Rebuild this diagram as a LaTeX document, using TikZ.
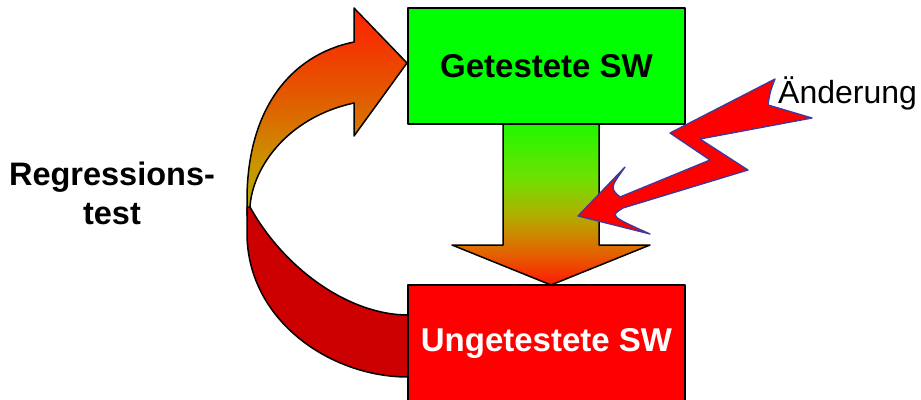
\documentclass[tikz,border=0pt]{standalone}
\usepackage{fontspec}
\setmainfont{Liberation Sans}
\definecolor{boxgreen}{HTML}{00FF00}
\definecolor{boxred}{HTML}{FF0000}
\definecolor{loopred}{HTML}{CC0000}
\definecolor{boltblue}{HTML}{3A3AA0}
\definecolor{fRed}{HTML}{FF1A00}
\definecolor{fOrange}{HTML}{E06A00}
\definecolor{fOlive}{HTML}{B0B000}
\definecolor{fLime}{HTML}{70E000}
\definecolor{fGreen}{HTML}{20F800}
\definecolor{lOlive}{HTML}{B4AA00}
\definecolor{lAmber}{HTML}{C89600}
\definecolor{lOrange}{HTML}{E06000}
\definecolor{lRed}{HTML}{F43400}
\definecolor{lTop}{HTML}{FF2400}
% downward flow: red at the tip, green at the top of the shaft
\pgfdeclareverticalshading{flowshade}{100bp}{color(0bp)=(fRed); color(25bp)=(fRed); color(36bp)=(fOrange); color(47bp)=(fOlive); color(58bp)=(fLime); color(75bp)=(fGreen); color(100bp)=(fGreen)}
% rising half of the loop arrow
\pgfdeclareverticalshading{loopshade}{100bp}{color(0bp)=(lOlive); color(25bp)=(lOlive); color(37bp)=(lAmber); color(52bp)=(lOrange); color(67bp)=(lRed); color(75bp)=(lTop); color(100bp)=(lTop)}
\begin{document}
\begin{tikzpicture}[x=1pt, y=-1pt, line join=round,
  outline/.style={draw=black, line width=1.5pt},
  box/.style={outline, minimum width=277pt, minimum height=116pt, inner sep=0pt,
    font=\fontsize{33}{33}\selectfont\bfseries},
  bolt/.style={fill=red, draw=boltblue, line width=1.3pt},
  sidelabel/.style={font=\fontsize{32.5}{39}\selectfont\bfseries, align=center, inner sep=0pt},
  changelabel/.style={font=\fontsize{32}{36}\selectfont, inner sep=0pt, anchor=base west}]
\useasboundingbox (0,0) rectangle (921,399);

% loop arrow: rising, shaded half
\path[outline, shade, shading=loopshade]
  (247,215) -- (247,200) .. controls (247,110) and (290,55) .. (354,42)
  -- (354,8) -- (407,63) -- (354,136) -- (354,103)
  .. controls (285,118) and (252,170) .. (250,207) -- cycle;
% loop arrow: returning, dark half
\path[outline, fill=loopred]
  (247,207) -- (247,233) .. controls (247,320) and (330,377) .. (408,377)
  -- (408,315) .. controls (350,315) and (285,270) .. (250,207) -- cycle;

% downward block arrow
\path[outline, shade, shading=flowshade]
  (503,124) -- (503,245) -- (452,245) -- (551,285) -- (650,245)
  -- (599,245) -- (599,124) -- cycle;

% the two states
\node[box, fill=boxgreen] (tested) at (546.5,66) {Getestete SW};
\node[box, fill=boxred, text=white] (untested) at (546.5,343) {Ungetestete SW};

% lightning bolt
\path[bolt]
  (775,79) .. controls (770,92) .. (768,105) -- (812,118) -- (700,139)
  -- (748,170) -- (623,208) .. controls (610,216) .. (650,234)
  -- (578,216) -- (625,167) .. controls (610,188) .. (620,197)
  -- (710,160) -- (670,133) -- cycle;

% labels
\node[sidelabel] (regr) at (112,193) {Regressions-\\test};
\node[changelabel] (change) at (778,103) {Änderung};
\end{tikzpicture}
\end{document}
